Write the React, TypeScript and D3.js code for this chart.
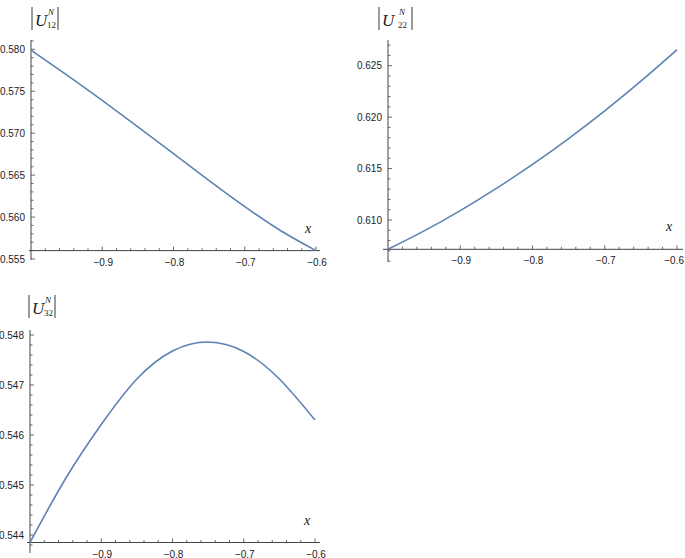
import React from "react";
import * as d3 from "d3";

// ---- data ----
const xs = [-1, -0.95, -0.9, -0.85, -0.8, -0.75, -0.7, -0.65, -0.6];
const u12 = [0.5799, 0.57695, 0.5739, 0.57075, 0.56755, 0.56435, 0.56125, 0.5584, 0.556];
const u22 = [0.60715, 0.60894, 0.61091, 0.61307, 0.6154, 0.61792, 0.62061, 0.62349, 0.62655];
const u32 = [0.54385, 0.54513, 0.54621, 0.54712, 0.54768, 0.54786, 0.54767, 0.54712, 0.5463];

const xTickValues = [-0.9, -0.8, -0.7, -0.6];
const xTickLabels = ["\u22120.9", "\u22120.8", "\u22120.7", "\u22120.6"];
const yTicks12 = [0.555, 0.56, 0.565, 0.57, 0.575, 0.58];
const yTicks22 = [0.61, 0.615, 0.62, 0.625];
const yTicks32 = [0.544, 0.545, 0.546, 0.547, 0.548];
const yLabels12 = ["0.555", "0.560", "0.565", "0.570", "0.575", "0.580"];
const yLabels22 = ["0.610", "0.615", "0.620", "0.625"];
const yLabels32 = ["0.544", "0.545", "0.546", "0.547", "0.548"];
const subscripts = ["12", "22", "32"];

const LINE = "#5E81B5";
const AXIS = "#444";
const TXT = "#222";
const SANS = "'Liberation Sans', Arial, sans-serif";
const SERIF = "'Liberation Serif', 'Times New Roman', serif";

type PanelProps = {
  values: number[];
  yTicks: number[];
  yLabels: string[];
  yDomain: [number, number];
  yRange: [number, number];
  xRange: [number, number];
  axisTop: number;
  axisBottom: number;
  xAxisValue: number;
  xAxisExt: [number, number];
  minorStep: number;
  sub: string;
  label: { bar1: number; ux: number; nx: number; sx: number; bar2: number; top: number };
};

function Panel(p: PanelProps) {
  const x = d3.scaleLinear().domain([-1, -0.6]).range(p.xRange);
  const y = d3.scaleLinear().domain(p.yDomain).range(p.yRange);
  const x0 = x(-1);
  const yAxisPos = y(p.xAxisValue);
  const line = d3
    .line<number>()
    .x((_, i) => x(xs[i]))
    .y((v) => y(v))
    .curve(d3.curveNatural);

  const xMinor = d3.range(0, 21).map((i) => -1 + i * 0.02);
  const yLo = y.invert(p.axisBottom);
  const yHi = y.invert(p.axisTop);
  const nStart = Math.ceil(yLo / p.minorStep - 1e-6);
  const nEnd = Math.floor(yHi / p.minorStep + 1e-6);
  const yMinor = d3.range(nStart, nEnd + 1).map((n) => n * p.minorStep);
  const isMajorY = (v: number) => p.yTicks.some((t) => Math.abs(t - v) < p.minorStep / 10);
  const isMajorX = (v: number) => Math.abs(Math.round(v * 10) - v * 10) < 1e-6;

  const L = p.label;
  return (
    <g>
      <line x1={x0} x2={x0} y1={p.axisTop} y2={p.axisBottom} stroke={AXIS} strokeWidth={1} />
      <line x1={p.xAxisExt[0]} x2={p.xAxisExt[1]} y1={yAxisPos} y2={yAxisPos} stroke={AXIS} strokeWidth={1} />
      {yMinor.map((v, i) => (
        <line key={"ym" + i} x1={x0} x2={x0 + (isMajorY(v) ? 4 : 2.5)} y1={y(v)} y2={y(v)} stroke={AXIS} strokeWidth={0.8} />
      ))}
      {xMinor.map((v, i) =>
        i === 0 ? null : (
          <line key={"xm" + i} x1={x(v)} x2={x(v)} y1={yAxisPos} y2={yAxisPos - (isMajorX(v) ? 4 : 2.5)} stroke={AXIS} strokeWidth={0.8} />
        )
      )}
      {p.yTicks.map((v, i) => (
        <text key={"yl" + i} x={x0 - 6} y={y(v)} dy="0.35em" textAnchor="end" fontFamily={SANS} fontSize={10} fill={TXT}>
          {p.yLabels[i]}
        </text>
      ))}
      {xTickValues.map((v, i) => {
        const cx = x(v) + 1;
        const overflow = cx + 10 > 684;
        return (
          <text key={"xl" + i} x={overflow ? 684 : cx} y={yAxisPos + 15} textAnchor={overflow ? "end" : "middle"} fontFamily={SANS} fontSize={10} fill={TXT}>
            {xTickLabels[i]}
          </text>
        );
      })}
      <path d={line(p.values) || ""} fill="none" stroke={LINE} strokeWidth={1.6} />
      <text x={x(-0.6) - 8} y={yAxisPos - 18} textAnchor="middle" fontFamily={SERIF} fontStyle="italic" fontSize={14} fill={TXT}>
        x
      </text>
      <line x1={L.bar1} x2={L.bar1} y1={L.top} y2={L.top + 23} stroke={TXT} strokeWidth={0.9} />
      <line x1={L.bar2} x2={L.bar2} y1={L.top} y2={L.top + 23} stroke={TXT} strokeWidth={0.9} />
      <text x={L.ux} y={L.top + 19} fontFamily={SERIF} fontStyle="italic" fontSize={17} fill={TXT}>
        U
      </text>
      <text x={L.nx} y={L.top + 8} fontFamily={SERIF} fontStyle="italic" fontSize={9} fill={TXT}>
        N
      </text>
      <text x={L.sx} y={L.top + 21} fontFamily={SERIF} fontSize={9} fill={TXT}>
        {p.sub}
      </text>
    </g>
  );
}

export default function App() {
  return (
    <svg width={685} height={558} style={{ position: "absolute", left: 0, top: 0, background: "#fff" }}>
      <Panel
        values={u12}
        yTicks={yTicks12}
        yLabels={yLabels12}
        yDomain={[0.555, 0.58]}
        yRange={[259, 49.3]}
        xRange={[31, 316]}
        axisTop={40}
        axisBottom={260}
        xAxisValue={0.556}
        xAxisExt={[29, 320]}
        minorStep={0.001}
        sub={subscripts[0]}
        label={{ bar1: 32, ux: 35, nx: 48, sx: 47, bar2: 58, top: 7 }}
      />
      <Panel
        values={u22}
        yTicks={yTicks22}
        yLabels={yLabels22}
        yDomain={[0.61, 0.625]}
        yRange={[220, 65.7]}
        xRange={[388, 677]}
        axisTop={40}
        axisBottom={262}
        xAxisValue={0.60715}
        xAxisExt={[383, 683]}
        minorStep={0.001}
        sub={subscripts[1]}
        label={{ bar1: 379, ux: 382, nx: 399, sx: 398, bar2: 412, top: 7 }}
      />
      <Panel
        values={u32}
        yTicks={yTicks32}
        yLabels={yLabels32}
        yDomain={[0.544, 0.548]}
        yRange={[535, 335]}
        xRange={[30, 315]}
        axisTop={330}
        axisBottom={553}
        xAxisValue={0.54385}
        xAxisExt={[27, 320]}
        minorStep={0.0002}
        sub={subscripts[2]}
        label={{ bar1: 29, ux: 32, nx: 45, sx: 44, bar2: 55, top: 295 }}
      />
    </svg>
  );
}
